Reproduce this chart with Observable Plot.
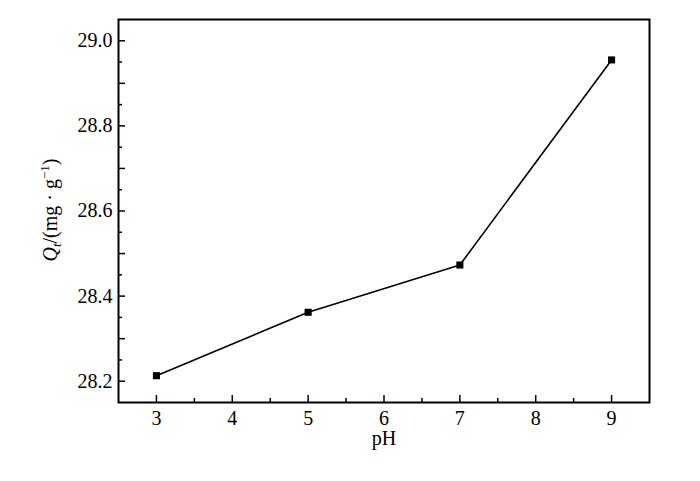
<!DOCTYPE html>
<html><head><meta charset="utf-8">
<script src="https://cdn.jsdelivr.net/npm/d3@7"></script>
<script src="https://cdn.jsdelivr.net/npm/@observablehq/plot@0.6"></script>
<style>body{margin:0;background:#fff} svg text{font-family:'Liberation Serif','Times New Roman',serif !important; font-variant: normal !important;}</style>
</head><body><div id="chart"></div>
<script>
const pH = [3, 5, 7, 9];
const Qt = [28.213, 28.362, 28.473, 28.955];
const xTickLabels = [3, 4, 5, 6, 7, 8, 9];
const xMinor = [3.5, 4.5, 5.5, 6.5, 7.5, 8.5];
const yTickLabels = [28.2, 28.4, 28.6, 28.8, 29.0];
const yMajor = [28.2, 28.3, 28.4, 28.5, 28.6, 28.7, 28.8, 28.9, 29.0];
const yMinor = [28.25, 28.35, 28.45, 28.55, 28.65, 28.75, 28.85, 28.95];
const xLabel = "pH";

const data = pH.map((x, i) => ({x, y: Qt[i]}));
const blank = () => "";
const serif = "'Liberation Serif', 'Times New Roman', serif";

const chart = Plot.plot({
  width: 700,
  height: 481,
  marginLeft: 118,
  marginRight: 51,
  marginTop: 19,
  marginBottom: 79,
  style: {fontFamily: serif, fontSize: "20px", color: "black", background: "white"},
  x: {domain: [2.5, 9.5]},
  y: {domain: [28.15, 29.05]},
  marks: [
    Plot.axisX(xTickLabels, {tickSize: -7, tickFormat: blank, label: null, strokeWidth: 1.5}),
    Plot.axisX(xMinor, {tickSize: -4, tickFormat: blank, label: null, strokeWidth: 1.5}),
    Plot.axisX(xTickLabels, {tickSize: 0, tickPadding: 8, tickFormat: d3.format("d"), label: null, fontFamily: serif, fontSize: 20}),
    Plot.axisY(yMajor, {tickSize: -7, tickFormat: blank, label: null, strokeWidth: 1.5}),
    Plot.axisY(yMinor, {tickSize: -4, tickFormat: blank, label: null, strokeWidth: 1.5}),
    Plot.axisY(yTickLabels, {tickSize: 0, tickPadding: 6, tickFormat: d3.format(".1f"), label: null, fontFamily: serif, fontSize: 20}),
    Plot.frame({stroke: "black", strokeWidth: 2}),
    Plot.line(data, {x: "x", y: "y", stroke: "black", strokeWidth: 1.6}),
    Plot.dot(data, {x: "x", y: "y", symbol: "square", r: 4, fill: "black", stroke: "none"}),
    Plot.text([xLabel], {text: d => d, frameAnchor: "bottom", dy: 42, lineAnchor: "bottom", fontFamily: serif, fontSize: 20})
  ]
});

const svg = d3.select(chart);
const lab = svg.append("text")
  .attr("transform", "translate(57,210) rotate(-90)")
  .attr("text-anchor", "middle")
  .attr("fill", "black")
  .style("font-family", serif)
  .style("font-size", "20px");
lab.append("tspan").attr("font-style", "italic").text("Q");
lab.append("tspan").attr("font-style", "italic").attr("font-size", "13px").attr("dy", 4).text("t");
lab.append("tspan").attr("dy", -4).text("/(mg · g");
lab.append("tspan").attr("font-size", "13px").attr("dy", -8).text("−1");
lab.append("tspan").attr("dy", 8).text(")");

document.getElementById("chart").appendChild(chart);
</script>
</body></html>
